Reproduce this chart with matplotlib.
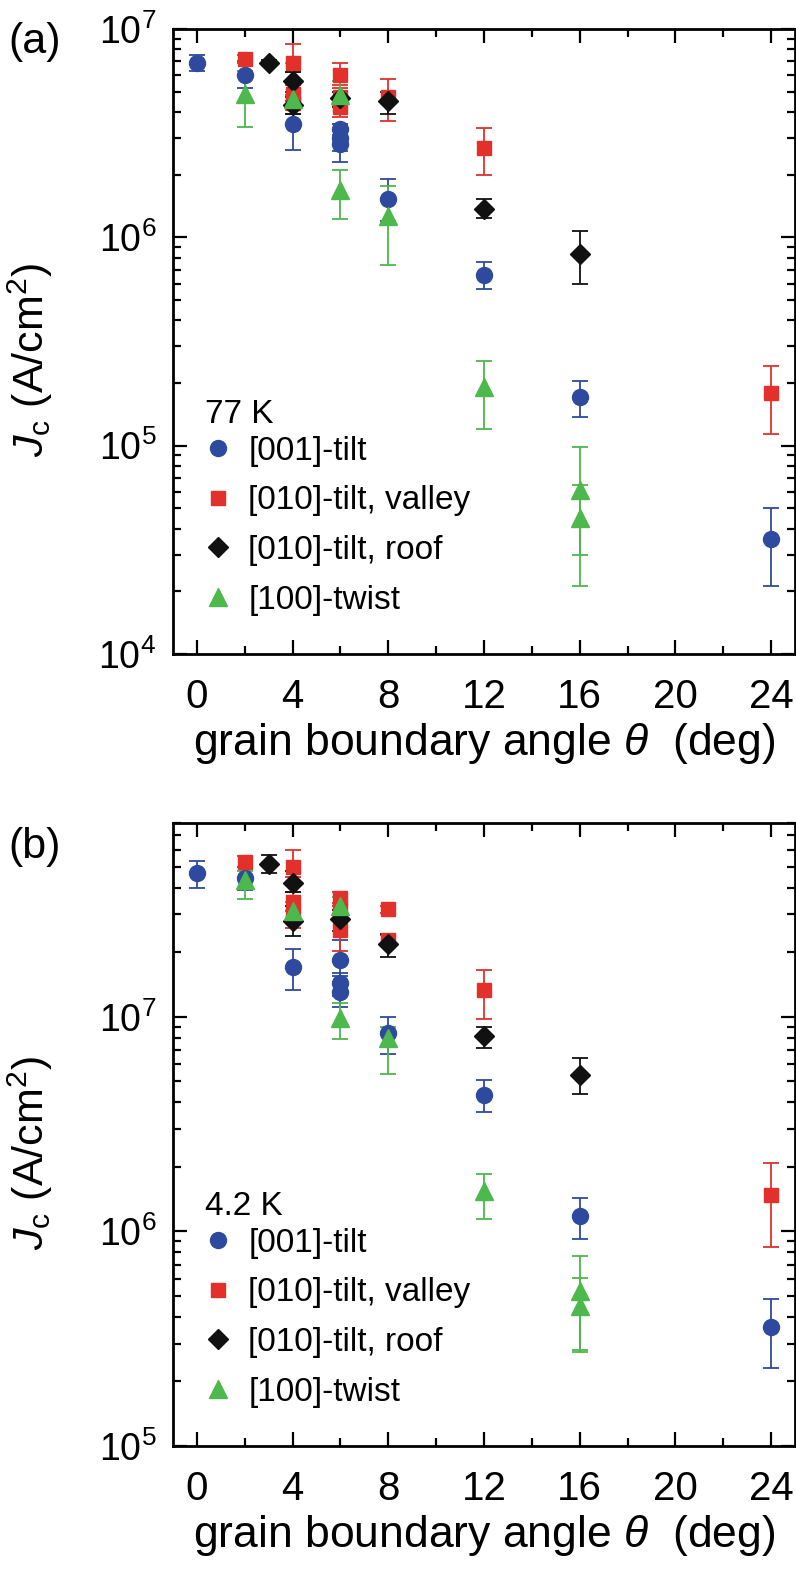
import math
import matplotlib
matplotlib.use("Agg")
import matplotlib.pyplot as plt
from matplotlib.ticker import FixedLocator, LogLocator, FuncFormatter, NullFormatter
from matplotlib.lines import Line2D

plt.rcParams['font.family'] = ['Liberation Sans', 'DejaVu Sans']
plt.rcParams['mathtext.fontset'] = 'custom'
plt.rcParams['mathtext.rm'] = 'Liberation Sans'
plt.rcParams['mathtext.it'] = 'Liberation Sans:italic'

# ---------------- data: panel (a) 77 K ----------------
a_001_x  = [0, 2, 4, 6, 6, 6, 8, 12, 16, 24]
a_001_y  = [6.9e6, 6.0e6, 3.5e6, 3.3e6, 3.0e6, 2.8e6, 1.53e6, 6.6e5, 1.71e5, 3.56e4]
a_001_hi = [7.5e6, 7.0e6, 3.9e6, 3.5e6, 3.3e6, 3.1e6, 1.9e6, 7.6e5, 2.04e5, 5.03e4]
a_001_lo = [6.3e6, 5.2e6, 2.63e6, 3.0e6, 2.6e6, 2.3e6, 1.2e6, 5.66e5, 1.37e5, 2.11e4]

a_val_x  = [2, 4, 4, 4, 6, 6, 6, 8, 12, 24]
a_val_y  = [7.2e6, 6.9e6, 4.9e6, 4.4e6, 6.0e6, 4.7e6, 4.2e6, 4.73e6, 2.67e6, 1.78e5]
a_val_hi = [7.5e6, 8.5e6, 5.4e6, 4.8e6, 6.9e6, 5.2e6, 4.6e6, 5.76e6, 3.36e6, 2.42e5]
a_val_lo = [6.9e6, 6.2e6, 4.5e6, 4.1e6, 5.4e6, 4.3e6, 3.8e6, 3.6e6, 2.0e6, 1.135e5]

a_roof_x  = [3, 4, 4, 6, 8, 12, 16]
a_roof_y  = [6.9e6, 5.6e6, 4.3e6, 4.66e6, 4.5e6, 1.37e6, 8.36e5]
a_roof_hi = [7.1e6, 6.2e6, 4.7e6, 5.0e6, 5.0e6, 1.52e6, 1.07e6]
a_roof_lo = [6.7e6, 5.0e6, 3.9e6, 4.2e6, 3.9e6, 1.24e6, 6.0e5]

a_tw_x  = [2, 4, 6, 6, 8, 12, 16, 16]
a_tw_y  = [4.85e6, 4.6e6, 4.8e6, 1.69e6, 1.26e6, 1.92e5, 6.1e4, 4.5e4]
a_tw_hi = [6.3e6, 6.9e6, 5.6e6, 2.1e6, 1.77e6, 2.54e5, 9.8e4, 6.5e4]
a_tw_lo = [3.4e6, 4.2e6, 4.3e6, 1.22e6, 7.4e5, 1.2e5, 3.0e4, 2.13e4]

# ---------------- data: panel (b) 4.2 K ----------------
b_001_x  = [0, 2, 4, 6, 6, 6, 8, 12, 16, 24]
b_001_y  = [4.67e7, 4.42e7, 1.70e7, 1.84e7, 1.43e7, 1.31e7, 8.4e6, 4.32e6, 1.18e6, 3.57e5]
b_001_hi = [5.33e7, 5.0e7, 2.07e7, 2.28e7, 1.6e7, 1.45e7, 1.0e7, 5.07e6, 1.43e6, 4.84e5]
b_001_lo = [4.0e7, 3.9e7, 1.33e7, 1.55e7, 1.25e7, 1.11e7, 6.7e6, 3.6e6, 9.2e5, 2.31e5]

b_val_x  = [2, 4, 4, 4, 6, 6, 6, 8, 8, 12, 24]
b_val_y  = [5.28e7, 5.0e7, 3.44e7, 2.95e7, 3.57e7, 3.14e7, 2.54e7, 3.18e7, 2.28e7, 1.33e7, 1.48e6]
b_val_hi = [5.6e7, 6.0e7, 3.8e7, 3.3e7, 3.83e7, 3.4e7, 2.8e7, 3.3e7, 2.4e7, 1.66e7, 2.09e6]
b_val_lo = [5.0e7, 4.5e7, 3.1e7, 2.6e7, 3.3e7, 2.9e7, 2.03e7, 3.05e7, 2.15e7, 9.8e6, 8.5e5]

b_roof_x  = [3, 4, 4, 6, 8, 12, 16]
b_roof_y  = [5.14e7, 4.19e7, 2.8e7, 2.85e7, 2.18e7, 8.1e6, 5.38e6]
b_roof_hi = [5.65e7, 4.8e7, 3.3e7, 3.14e7, 2.44e7, 9.0e6, 6.4e6]
b_roof_lo = [4.7e7, 3.8e7, 2.37e7, 2.5e7, 1.89e7, 7.14e6, 4.37e6]

b_tw_x  = [2, 4, 6, 6, 8, 12, 16, 16]
b_tw_y  = [4.34e7, 3.1e7, 3.3e7, 9.85e6, 7.95e6, 1.54e6, 5.28e5, 4.49e5]
b_tw_hi = [4.8e7, 3.44e7, 3.6e7, 1.16e7, 9.0e6, 1.86e6, 7.66e5, 6.08e5]
b_tw_lo = [3.53e7, 2.8e7, 3.0e7, 7.85e6, 5.4e6, 1.14e6, 2.8e5, 2.73e5]

labels = ['[001]-tilt', '[010]-tilt, valley', '[010]-tilt, roof', '[100]-twist']
x_ticks = [0, 4, 8, 12, 16, 20, 24]
x_minor = [2, 6, 10, 14, 18, 22]

BLUE = '#2D4A9F'
RED = '#E2302B'
BLACK = '#111111'
GREEN = '#4DB84B'
styles = [(BLUE, 'o', 11.5), (RED, 's', 10), (BLACK, 'D', 10), (GREEN, '^', 12.5)]

W, H = 796, 1570
fig = plt.figure(figsize=(W / 100, H / 100), dpi=100)

def fmt_log(v, p):
    return r'$\mathregular{10^{%d}}$' % round(math.log10(v))

def make_ax(top_px, bot_px, ylim, series, temp):
    ax = fig.add_axes([173 / W, 1 - bot_px / H, 622 / W, (bot_px - top_px) / H])
    for (x, y, hi, lo), (c, m, ms) in zip(series, styles):
        yerr = [[yy - l for yy, l in zip(y, lo)], [h - yy for yy, h in zip(y, hi)]]
        ax.errorbar(x, y, yerr=yerr, fmt=m, color=c, ms=ms, mec=c, mfc=c,
                    elinewidth=1.3, capsize=6, capthick=1.3, zorder=3)
    ax.set_yscale('log')
    ax.set_xlim(-1, 25)
    ax.set_ylim(*ylim)
    ax.xaxis.set_major_locator(FixedLocator(x_ticks))
    ax.xaxis.set_minor_locator(FixedLocator(x_minor))
    ax.yaxis.set_major_locator(LogLocator(base=10, numticks=10))
    ax.yaxis.set_minor_locator(LogLocator(base=10, subs=range(2, 10), numticks=20))
    ax.yaxis.set_minor_formatter(NullFormatter())
    ax.yaxis.set_major_formatter(FuncFormatter(fmt_log))
    ax.tick_params(which='both', direction='in', top=True, right=True, width=1.6)
    ax.tick_params(which='major', length=10)
    ax.tick_params(which='minor', length=5.5)
    ax.tick_params(axis='x', pad=17, labelsize=29)
    ax.tick_params(axis='y', pad=12, labelsize=27)
    for s in ax.spines.values():
        s.set_linewidth(2.0)
    ax.set_xlabel(r'grain boundary angle $\theta$  (deg)', fontsize=32, labelpad=4)
    ax.set_ylabel(r'$J_{\mathregular{c}}$ (A/cm$^{\mathregular{2}}$)', fontsize=31)
    ax.yaxis.set_label_coords(-0.19, 0.47)
    handles = [Line2D([], [], ls='none', marker=m, color=c, ms=ms) for c, m, ms in styles]
    leg = ax.legend(handles, labels, title=temp, loc='lower left', bbox_to_anchor=(0.03, 0.04),
                    frameon=False, fontsize=24, title_fontsize=24, handlelength=0.8,
                    handletextpad=0.5, labelspacing=0.56, borderaxespad=0.0)
    leg._legend_box.align = 'left'
    leg._legend_box.sep = 4
    return ax

ax_a = make_ax(29, 654, (1e4, 1e7), [
    (a_001_x, a_001_y, a_001_hi, a_001_lo),
    (a_val_x, a_val_y, a_val_hi, a_val_lo),
    (a_roof_x, a_roof_y, a_roof_hi, a_roof_lo),
    (a_tw_x, a_tw_y, a_tw_hi, a_tw_lo)], '77 K')
ax_b = make_ax(823, 1446, (1e5, 8e7), [
    (b_001_x, b_001_y, b_001_hi, b_001_lo),
    (b_val_x, b_val_y, b_val_hi, b_val_lo),
    (b_roof_x, b_roof_y, b_roof_hi, b_roof_lo),
    (b_tw_x, b_tw_y, b_tw_hi, b_tw_lo)], '4.2 K')

fig.text(8 / W, 1 - 42 / H, '(a)', fontsize=31, va='center', ha='left')
fig.text(8 / W, 1 - 847 / H, '(b)', fontsize=31, va='center', ha='left')

fig.savefig('out.png', dpi=100)
